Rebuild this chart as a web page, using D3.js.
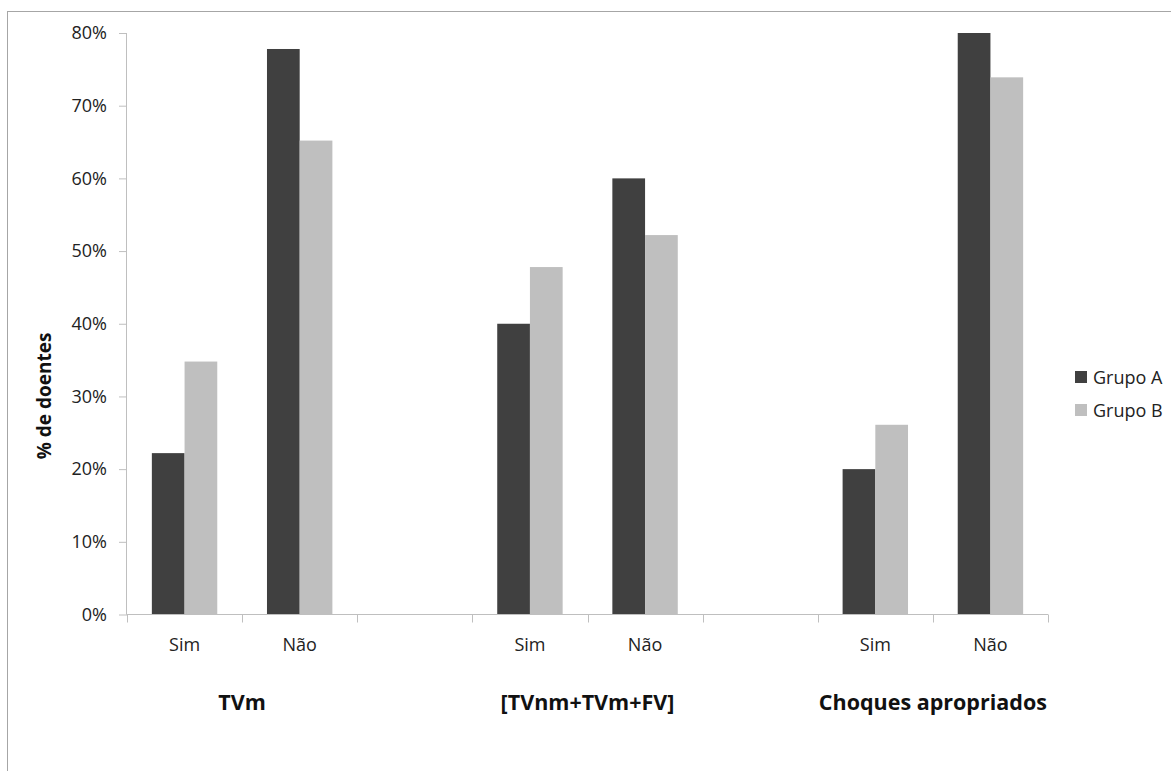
<!DOCTYPE html>
<html>
<head>
<meta charset="utf-8">
<script src="https://cdn.jsdelivr.net/npm/d3@7"></script>
<style>
  html, body { margin: 0; padding: 0; background: #fff; }
  svg { display: block; font-family: "Open Sans", "DejaVu Sans", sans-serif; }
</style>
</head>
<body>
<svg id="chart" width="1171" height="771"></svg>
<script>
// ---- data ----
const groups = ["TVm", "[TVnm+TVm+FV]", "Choques apropriados"];
const categories = ["Sim", "Não", "", "Sim", "Não", "", "Sim", "Não"];
const seriesNames = ["Grupo A", "Grupo B"];
const grupoA = [22.2, 77.8, null, 40.0, 60.0, null, 20.0, 80.0];
const grupoB = [34.8, 65.2, null, 47.8, 52.2, null, 26.1, 73.9];
const yTicks = [0, 10, 20, 30, 40, 50, 60, 70, 80];
const yTitle = "% de doentes";

(function () {
// ---- layout ----
const svg = d3.select("#chart");
const pLeft = 127, pRight = 1048, pTop = 33, pBottom = 614.5;
const colors = ["#404040", "#bfbfbf"];
const axisColor = "#bfbfbf";

// outer chart border (cropped on right/bottom)
svg.append("rect")
  .attr("x", 7.5).attr("y", 11.5)
  .attr("width", 1300).attr("height", 900)
  .attr("fill", "none").attr("stroke", "#a6a6a6").attr("stroke-width", 1);

const slotIdx = d3.range(categories.length);
const x = d3.scaleBand().domain(slotIdx).range([pLeft, pRight]).paddingInner(0).paddingOuter(0);
const xs = d3.scaleBand().domain(seriesNames).range([0, x.bandwidth()]).paddingInner(0).paddingOuter(0.76);
const y = d3.scaleLinear().domain([0, 80]).range([pBottom, pTop]);

// bars
const series = [grupoA, grupoB];
series.forEach((vals, si) => {
  svg.append("g").selectAll("rect")
    .data(vals.map((v, i) => ({v, i})).filter(d => d.v != null))
    .join("rect")
    .attr("x", d => x(d.i) + xs(seriesNames[si]))
    .attr("width", xs.bandwidth())
    .attr("y", d => y(d.v))
    .attr("height", d => y(0) - y(d.v))
    .attr("fill", colors[si]);
});

// y axis
const yAxis = d3.axisLeft(y).tickValues(yTicks).tickFormat(d => d + "%").tickSize(8).tickPadding(12);
const gy = svg.append("g").attr("transform", `translate(${pLeft},0)`).call(yAxis);
gy.select(".domain").attr("stroke", axisColor).attr("d", `M-0.5,${pTop}V${pBottom}`);
gy.selectAll(".tick line").attr("stroke", axisColor);
gy.selectAll(".tick text").attr("font-size", 18).attr("fill", "#222")
  .attr("font-family", "'Open Sans', sans-serif");

// x axis line + ticks at slot boundaries
const gx = svg.append("g");
gx.append("line").attr("x1", pLeft - 0.5).attr("x2", pRight).attr("y1", pBottom).attr("y2", pBottom)
  .attr("stroke", axisColor);
const boundaries = slotIdx.map(i => x(i)).concat([pRight]);
gx.selectAll("line.tk").data(boundaries).join("line").attr("class", "tk")
  .attr("x1", d => Math.round(d) + 0.5).attr("x2", d => Math.round(d) + 0.5)
  .attr("y1", pBottom).attr("y2", pBottom + 8).attr("stroke", axisColor);

// category labels
gx.selectAll("text.cat").data(categories.map((c, i) => ({c, i})).filter(d => d.c))
  .join("text").attr("class", "cat")
  .attr("x", d => x(d.i) + x.bandwidth() / 2)
  .attr("y", 651)
  .attr("text-anchor", "middle").attr("font-size", 18).attr("fill", "#222")
  .text(d => d.c);

// group labels (centered on each pair of Sim/Não)
gx.selectAll("text.grp").data(groups).join("text").attr("class", "grp")
  .attr("x", (d, gi) => x(gi * 3) + x.bandwidth())
  .attr("y", 710)
  .attr("text-anchor", "middle").attr("font-size", 21.5).attr("font-weight", "bold").attr("fill", "#111")
  .text(d => d);

// y title
svg.append("text")
  .attr("transform", `translate(51,396) rotate(-90)`)
  .attr("text-anchor", "middle").attr("font-size", 19).attr("font-weight", "bold").attr("fill", "#111")
  .text(yTitle);

// legend
const lg = svg.append("g");
seriesNames.forEach((s, i) => {
  const ly = 377 + i * 33;
  lg.append("rect").attr("x", 1075).attr("y", ly - 6).attr("width", 12).attr("height", 12).attr("fill", colors[i]);
  lg.append("text").attr("x", 1093).attr("y", ly + 6.5).attr("font-size", 18).attr("fill", "#222").text(s);
});
})();
</script>
</body>
</html>
